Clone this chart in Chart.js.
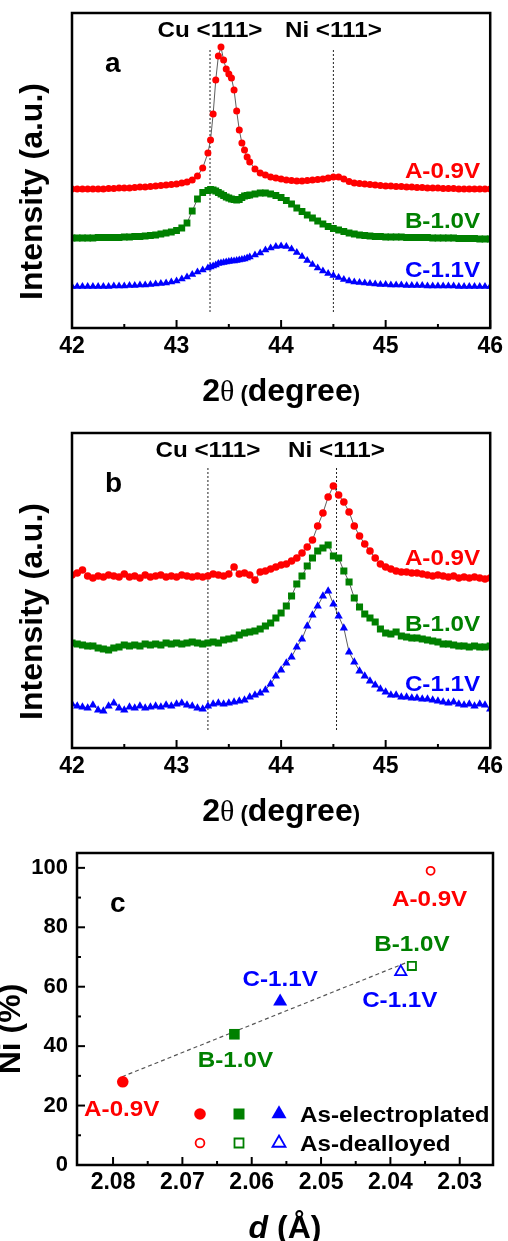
<!DOCTYPE html>
<html>
<head>
<meta charset="utf-8">
<script src="https://cdn.jsdelivr.net/npm/chart.js@4.4.1/dist/chart.umd.min.js"></script>
<style>
  html, body { margin: 0; padding: 0; background: #fff; }
  canvas { display: block; }
</style>
</head>
<body>
<canvas id="chartA" width="508" height="420"></canvas>
<canvas id="chartB" width="508" height="410"></canvas>
<canvas id="chartC" width="508" height="411"></canvas>
<script>
// ---------- panel a : XRD of as-electroplated films ----------
const thetaA = [
  42.00, 42.05, 42.10, 42.15, 42.20, 42.25, 42.30, 42.35, 42.40, 42.45,
  42.50, 42.55, 42.60, 42.65, 42.70, 42.75, 42.80, 42.85, 42.90, 42.95,
  43.00, 43.05, 43.10, 43.15, 43.20, 43.25, 43.30,
  43.325, 43.35, 43.375, 43.40, 43.425, 43.45, 43.475, 43.50, 43.525, 43.55, 43.575, 43.60, 43.625, 43.65, 43.675,
  43.70, 43.75, 43.80, 43.85, 43.90, 43.95, 44.00, 44.05, 44.10, 44.15,
  44.20, 44.25, 44.30, 44.35, 44.40, 44.45, 44.50, 44.55, 44.60, 44.65,
  44.70, 44.75, 44.80, 44.85, 44.90, 44.95, 45.00, 45.05, 45.10, 45.15,
  45.20, 45.25, 45.30, 45.35, 45.40, 45.45, 45.50, 45.55, 45.60, 45.65,
  45.70, 45.75, 45.80, 45.85, 45.90, 45.95, 46.00
];
const aRed = [
  139, 139, 139, 139, 139, 139, 139, 139.5, 139.5, 140,
  140, 140, 140.5, 141, 141, 141.5, 142, 142.5, 143, 143.5,
  144, 145, 146, 148, 152, 160, 175,
  188, 214, 248, 272, 281, 268, 259, 254, 250, 238, 217, 198, 185, 178, 171,
  166, 159, 155, 153, 151, 150, 149, 148, 147.5, 147,
  147, 147.5, 148, 148.5, 149, 150, 151, 151, 149, 146.5,
  145, 144.5, 144, 143.5, 143, 142.5, 142, 142, 141.5, 141.5,
  141, 141, 140.5, 140.5, 140, 140, 140, 139.5, 139.5, 139.5,
  139, 139, 139, 139, 139, 139, 139
];
const aGreen = [
  90, 90, 90, 90, 90, 90.5, 90.5, 90.5, 90.5, 90.5,
  91, 91, 91.5, 91.5, 92, 92.5, 93, 94, 95, 96,
  97.5, 100, 105, 117, 129, 135.5, 137.5,
  138.5, 138, 137, 135.5, 134, 132.5, 131, 130, 129, 128.5, 128, 128.5, 130.5, 132, 132.5,
  133, 134, 135, 135, 134, 132.5, 130.5, 127.5, 124, 120,
  116.5, 113, 110, 107, 104, 101.5, 99.5, 98, 96.5, 95,
  94, 93, 92.5, 92, 91.5, 91.5, 91, 91, 91, 91,
  90.5, 90.5, 90.5, 90.5, 90.5, 90, 90, 90, 90, 90,
  89.5, 89.5, 89.5, 89.5, 89, 89, 89
];
const aBlue = [
  41.5, 41.5, 41.5, 41.5, 41.5, 41.5, 41.5, 41.5, 42, 42,
  42, 42.5, 42.5, 43, 43, 43.5, 44, 44.5, 45, 46,
  47, 49, 51, 53.5, 56, 58, 60,
  61, 62, 63, 64.5, 65, 65.5, 66, 66.5, 67, 67, 67.5, 68, 68.5, 69, 70,
  71, 73, 75, 78, 80, 81.5, 82, 81.5, 79, 75.5,
  71.5, 67.5, 63.5, 60, 57, 54.5, 52.5, 50.5, 48.5, 47,
  46, 45.5, 45, 44.5, 44, 43.5, 43.5, 43, 43, 43,
  42.5, 42.5, 42.5, 42.5, 42, 42, 42, 42, 42, 42,
  41.5, 41.5, 41.5, 41.5, 41.5, 41.5, 41.5
];

// ---------- panel b : XRD of dealloyed films ----------
const thetaB = [
  42.00, 42.05, 42.10, 42.15, 42.20, 42.25, 42.30, 42.35, 42.40, 42.45,
  42.50, 42.55, 42.60, 42.65, 42.70, 42.75, 42.80, 42.85, 42.90, 42.95,
  43.00, 43.05, 43.10, 43.15, 43.20, 43.25, 43.30, 43.35, 43.40, 43.45,
  43.50, 43.55, 43.60, 43.65, 43.70, 43.75, 43.80, 43.85, 43.90, 43.95,
  44.00, 44.05, 44.10, 44.15, 44.20, 44.25, 44.30, 44.35, 44.40, 44.45,
  44.50, 44.55, 44.60, 44.65, 44.70, 44.75, 44.80, 44.85, 44.90, 44.95,
  45.00, 45.05, 45.10, 45.15, 45.20, 45.25, 45.30, 45.35, 45.40, 45.45,
  45.50, 45.55, 45.60, 45.65, 45.70, 45.75, 45.80, 45.85, 45.90, 45.95,
  46.00
];
const bRed = [
  173, 175, 178, 172, 170, 172, 171, 173, 172, 171,
  174, 171, 172, 170, 173, 171, 172, 173, 171, 172,
  171, 173, 172, 171, 172, 171, 172, 174, 173, 172,
  174, 181, 174, 175, 173, 168, 176, 177, 179, 181,
  183, 184, 187, 190, 195, 201, 208, 222, 235, 251,
  262, 253, 246, 236, 222, 212, 204, 197, 190, 184,
  181, 179, 177, 176, 176, 175, 175, 174, 173, 172,
  173, 172, 171, 172, 170, 171, 170, 171, 170, 169,
  170
];
const bGreen = [
  105, 104, 103, 102, 102, 100, 99, 98, 100, 101,
  103, 102, 103, 102, 104, 103, 104, 103, 105, 104,
  105, 104, 105, 106, 105, 104, 105, 106, 105, 108,
  109, 110, 113, 115, 116, 117, 119, 122, 125, 130,
  135, 142, 152, 164, 172, 182, 190, 197, 200, 203,
  192, 190, 177, 166, 150, 141, 134, 130, 126, 119,
  115, 114, 116, 112, 111, 110, 110, 109, 108, 107,
  106, 104, 104, 103, 102, 102, 101, 102, 101, 101,
  102
];
const bBlue = [
  44, 42, 41, 40, 43, 38, 37, 42, 45, 40,
  38, 41, 40, 42, 40, 41, 42, 41, 43, 42,
  44, 45, 43, 42, 40, 39, 42, 44, 45, 44,
  45, 46, 47, 48, 51, 53, 55, 58, 64, 72,
  78, 85, 91, 101, 109, 122, 133, 142, 152, 157,
  144, 132, 120, 96, 86, 77, 72, 67, 63, 59,
  56, 53, 53, 51, 51, 50, 50, 49, 49, 48,
  47, 46, 45, 46, 44, 43, 44, 42, 44, 43,
  39
];

const sampleNames = ['A-0.9V', 'B-1.0V', 'C-1.1V'];
const peakNames = ['Cu <111>', 'Ni <111>'];
const peakPosA = [43.32, 44.50];
const peakPosB = [43.30, 44.53];
const xTicksAB = [42, 43, 44, 45, 46];
const xMinorAB = [42.5, 43.5, 44.5, 45.5];

// ---------- panel c : Ni content vs lattice spacing ----------
const dElectro = [2.0786, 2.0625, 2.0559];
const niElectro = [28, 44, 55];
const dDealloy = [2.0342, 2.0369, 2.0385];
const niDealloy = [99, 67, 65];
const fitD = [2.0787, 2.0374];
const fitNi = [29.7, 68.4];
const dTicks = [2.08, 2.07, 2.06, 2.05, 2.04, 2.03];
const dMinor = [2.075, 2.065, 2.055, 2.045, 2.035];
const niTicks = [0, 20, 40, 60, 80, 100];
const niMinor = [10, 30, 50, 70, 90];
const legendNames = ['As-electroplated', 'As-dealloyed'];

// ---------- styling ----------
const FONT = '"Liberation Sans", Arial, Helvetica, sans-serif';
const colors = ['#ff0000', '#008000', '#0000ff'];
const shapes = ['circle', 'rect', 'triangle'];

Chart.defaults.font.family = FONT;
Chart.defaults.font.weight = 'bold';
Chart.defaults.color = '#000';

function put(ctx, str, x, y, font, color, align, sx) {
  ctx.save();
  ctx.font = font;
  ctx.fillStyle = color;
  ctx.textAlign = align || 'left';
  ctx.textBaseline = 'alphabetic';
  ctx.translate(x, y);
  ctx.scale(sx || 1, 1);
  ctx.fillText(str, 0, 0);
  ctx.restore();
}

// text made of several runs with different fonts, centred on cx
function putRuns(ctx, runs, cx, base) {
  ctx.save();
  ctx.fillStyle = '#000';
  ctx.textAlign = 'left';
  ctx.textBaseline = 'alphabetic';
  let w = 0;
  runs.forEach(r => { ctx.font = r[1]; w += ctx.measureText(r[0]).width; });
  let x = cx - w / 2;
  runs.forEach(r => { ctx.font = r[1]; ctx.fillText(r[0], x, base); x += ctx.measureText(r[0]).width; });
  ctx.restore();
}

function putRotated(ctx, str, x, y, font) {
  ctx.save();
  ctx.font = font;
  ctx.fillStyle = '#000';
  ctx.textAlign = 'center';
  ctx.textBaseline = 'alphabetic';
  ctx.translate(x, y);
  ctx.rotate(-Math.PI / 2);
  ctx.fillText(str, 0, 0);
  ctx.restore();
}

function line(ctx, x1, y1, x2, y2) {
  ctx.beginPath();
  ctx.moveTo(x1, y1);
  ctx.lineTo(x2, y2);
  ctx.stroke();
}

function marker(ctx, style, x, y, size, color, open) {
  ctx.save();
  ctx.beginPath();
  if (style === 'circle') {
    ctx.arc(x, y, size, 0, Math.PI * 2);
  } else if (style === 'rect') {
    ctx.rect(x - size, y - size, size * 2, size * 2);
  } else {
    const h = size * 1.732;
    ctx.moveTo(x, y - h * 2 / 3);
    ctx.lineTo(x + size, y + h / 3);
    ctx.lineTo(x - size, y + h / 3);
    ctx.closePath();
  }
  if (open) {
    ctx.fillStyle = '#fff';
    ctx.fill();
    ctx.strokeStyle = color;
    ctx.lineWidth = 1.8;
    ctx.stroke();
  } else {
    ctx.fillStyle = color;
    ctx.fill();
  }
  ctx.restore();
}

function xrdDecor(p) {
  return {
    id: 'decor',
    afterDraw(chart) {
      const { ctx, chartArea: ca } = chart;
      const x = chart.scales.x, y = chart.scales.y;
      ctx.save();
      ctx.strokeStyle = '#000';
      ctx.lineWidth = 2;
      xTicksAB.forEach(v => { const px = x.getPixelForValue(v); line(ctx, px, ca.bottom, px, ca.bottom - 8); });
      xMinorAB.forEach(v => { const px = x.getPixelForValue(v); line(ctx, px, ca.bottom, px, ca.bottom - 4); });
      ctx.lineWidth = 2.5;
      ctx.strokeRect(ca.left, ca.top, ca.right - ca.left, ca.bottom - ca.top);
      ctx.restore();

      p.peaks.forEach((v, i) => put(ctx, peakNames[i], x.getPixelForValue(v), ca.top + 24, 'bold 22px ' + FONT, '#000', 'center', 1.1));
      p.series.forEach((s, i) => put(ctx, sampleNames[i], ca.right - 10, y.getPixelForValue(p.labelLevels[i]), 'bold 22px ' + FONT, s.color, 'right', 1.1));
      put(ctx, p.letter, ca.left + 33, ca.top + 59, 'bold 28px ' + FONT, '#000', 'left', 1);

      putRotated(ctx, 'Intensity (a.u.)', ca.left - 30, (ca.top + ca.bottom) / 2 + 21, 'bold 32px ' + FONT);
      putRuns(ctx, [
        ['2', 'bold 32px ' + FONT],
        ['\u03b8', '30px "Liberation Serif", serif'],
        [' (', 'bold 22px ' + FONT],
        ['degree', 'bold 32px ' + FONT],
        [')', 'bold 22px ' + FONT]
      ], (ca.left + ca.right) / 2, ca.bottom + 73);
    }
  };
}

function makeXrd(id, p) {
  const datasets = p.series.map(s => ({
    data: p.theta.map((t, i) => ({ x: t, y: s.values[i] })),
    showLine: true,
    borderColor: '#333',
    borderWidth: 0.8,
    pointStyle: s.style,
    pointRadius: s.r,
    pointBackgroundColor: s.color,
    pointBorderColor: s.color,
    pointBorderWidth: 0,
    order: 1
  }));
  p.peaks.forEach(v => datasets.push({
    data: [{ x: v, y: p.peakSpan[0] }, { x: v, y: p.peakSpan[1] }],
    showLine: true,
    borderColor: '#222',
    borderWidth: 1,
    borderDash: [2, 2],
    pointRadius: 0,
    order: 5
  }));

  return new Chart(document.getElementById(id), {
    type: 'scatter',
    data: { datasets: datasets },
    options: {
      responsive: false,
      animation: false,
      events: [],
      layout: { padding: { left: 0, right: 15, top: 13, bottom: 0 } },
      plugins: { legend: { display: false }, tooltip: { enabled: false } },
      scales: {
        x: {
          type: 'linear', min: 42, max: 46,
          grid: { display: false, drawTicks: false },
          border: { display: false },
          ticks: { padding: 5, font: { size: 23, weight: 'bold' }, color: '#000' },
          afterBuildTicks: sc => { sc.ticks = xTicksAB.map(v => ({ value: v })); },
          afterFit: sc => { sc.height = p.axisH; }
        },
        y: {
          type: 'linear', min: 0, max: 315,
          grid: { display: false, drawTicks: false },
          border: { display: false },
          ticks: { display: false },
          afterFit: sc => { sc.width = 72; }
        }
      }
    },
    plugins: [xrdDecor(p)]
  });
}

makeXrd('chartA', {
  theta: thetaA,
  series: [
    { values: aRed, color: colors[0], style: 'circle', r: 3.5 },
    { values: aGreen, color: colors[1], style: 'rect', r: 4.8 },
    { values: aBlue, color: colors[2], style: 'triangle', r: 4.6 }
  ],
  peaks: peakPosA,
  peakSpan: [16, 278],
  labelLevels: [150, 100, 51.5],
  letter: 'a',
  axisH: 92
});

makeXrd('chartB', {
  theta: thetaB,
  series: [
    { values: bRed, color: colors[0], style: 'circle', r: 3.8 },
    { values: bGreen, color: colors[1], style: 'rect', r: 5 },
    { values: bBlue, color: colors[2], style: 'triangle', r: 4.8 }
  ],
  peaks: peakPosB,
  peakSpan: [18, 281],
  labelLevels: [183, 116.6, 57],
  letter: 'b',
  axisH: 82
});

// ---------- panel c ----------
const filledR = [5.8, 7.5, 8.1];
const openR = [4.0, 5.8, 6.5];
const electroLabelOff = [[-1, 34], [1, 33], [0, -16]];
const dealloyLabelOff = [[-1, 35], [0, -15], [-1, 35]];

const cDatasets = [];
sampleNames.forEach((n, i) => {
  cDatasets.push({
    data: [{ x: dElectro[i], y: niElectro[i] }],
    pointStyle: shapes[i], pointRadius: filledR[i],
    pointBackgroundColor: colors[i], pointBorderColor: colors[i], pointBorderWidth: 0,
    order: 1
  });
  cDatasets.push({
    data: [{ x: dDealloy[i], y: niDealloy[i] }],
    pointStyle: shapes[i], pointRadius: openR[i],
    pointBackgroundColor: '#fff', pointBorderColor: colors[i], pointBorderWidth: 1.8,
    order: 1
  });
});
cDatasets.push({
  data: fitD.map((d, i) => ({ x: d, y: fitNi[i] })),
  showLine: true,
  borderColor: '#555',
  borderWidth: 1.2,
  borderDash: [4, 3],
  pointRadius: 0,
  order: 5
});

const cDecor = {
  id: 'cDecor',
  afterDraw(chart) {
    const { ctx, chartArea: ca } = chart;
    const x = chart.scales.x, y = chart.scales.y;
    ctx.save();
    ctx.strokeStyle = '#000';
    ctx.lineWidth = 2;
    dTicks.forEach(v => { const px = x.getPixelForValue(v); line(ctx, px, ca.bottom, px, ca.bottom - 8); });
    dMinor.forEach(v => { const px = x.getPixelForValue(v); line(ctx, px, ca.bottom, px, ca.bottom - 4); });
    niTicks.forEach(v => { const py = y.getPixelForValue(v); line(ctx, ca.left, py, ca.left + 8, py); });
    niMinor.forEach(v => { const py = y.getPixelForValue(v); line(ctx, ca.left, py, ca.left + 4, py); });
    ctx.lineWidth = 2.5;
    ctx.strokeRect(ca.left, ca.top, ca.right - ca.left, ca.bottom - ca.top);
    ctx.restore();

    const lf = 'bold 22px ' + FONT;
    sampleNames.forEach((n, i) => {
      put(ctx, n, x.getPixelForValue(dElectro[i]) + electroLabelOff[i][0],
        y.getPixelForValue(niElectro[i]) + electroLabelOff[i][1], lf, colors[i], 'center', 1.1);
      put(ctx, n, x.getPixelForValue(dDealloy[i]) + dealloyLabelOff[i][0],
        y.getPixelForValue(niDealloy[i]) + dealloyLabelOff[i][1], lf, colors[i], 'center', 1.1);
    });

    put(ctx, 'c', ca.left + 33, ca.top + 59, 'bold 28px ' + FONT, '#000', 'left', 1);

    // legend: filled row then open row
    const mx = [123, 162, 202];
    const fSize = [5.8, 5.5, 7.5];
    const oSize = [4.4, 4.5, 6.5];
    mx.forEach((dx, i) => {
      marker(ctx, shapes[i], ca.left + dx, ca.top + 261, fSize[i], colors[i], false);
      marker(ctx, shapes[i], ca.left + dx, ca.top + 290, oSize[i], colors[i], true);
    });
    put(ctx, legendNames[0], ca.left + 223, ca.top + 269, lf, '#000', 'left', 1.1);
    put(ctx, legendNames[1], ca.left + 223, ca.top + 298, lf, '#000', 'left', 1.1);

    putRotated(ctx, 'Ni (%)', ca.left - 57, (ca.top + ca.bottom) / 2 + 20, 'bold 32px ' + FONT);
    putRuns(ctx, [
      ['d', 'italic bold 32px ' + FONT],
      [' (\u00c5)', 'bold 32px ' + FONT]
    ], (ca.left + ca.right) / 2, ca.bottom + 73);
  }
};

new Chart(document.getElementById('chartC'), {
  type: 'scatter',
  data: { datasets: cDatasets },
  options: {
    responsive: false,
    animation: false,
    events: [],
    layout: { padding: { left: 0, right: 15, top: 23, bottom: 0 } },
    plugins: { legend: { display: false }, tooltip: { enabled: false } },
    scales: {
      x: {
        type: 'linear', min: 2.0252, max: 2.0852, reverse: true,
        grid: { display: false, drawTicks: false },
        border: { display: false },
        ticks: { padding: 4, font: { size: 23, weight: 'bold' }, color: '#000', callback: v => v.toFixed(2) },
        afterBuildTicks: sc => { sc.ticks = dTicks.map(v => ({ value: v })); },
        afterFit: sc => { sc.height = 76; }
      },
      y: {
        type: 'linear', min: 0, max: 105,
        grid: { display: false, drawTicks: false },
        border: { display: false },
        ticks: { padding: 9, font: { size: 22, weight: 'bold' }, color: '#000' },
        afterBuildTicks: sc => { sc.ticks = niTicks.map(v => ({ value: v })); },
        afterFit: sc => { sc.width = 77; }
      }
    }
  },
  plugins: [cDecor]
});
</script>
</body>
</html>
